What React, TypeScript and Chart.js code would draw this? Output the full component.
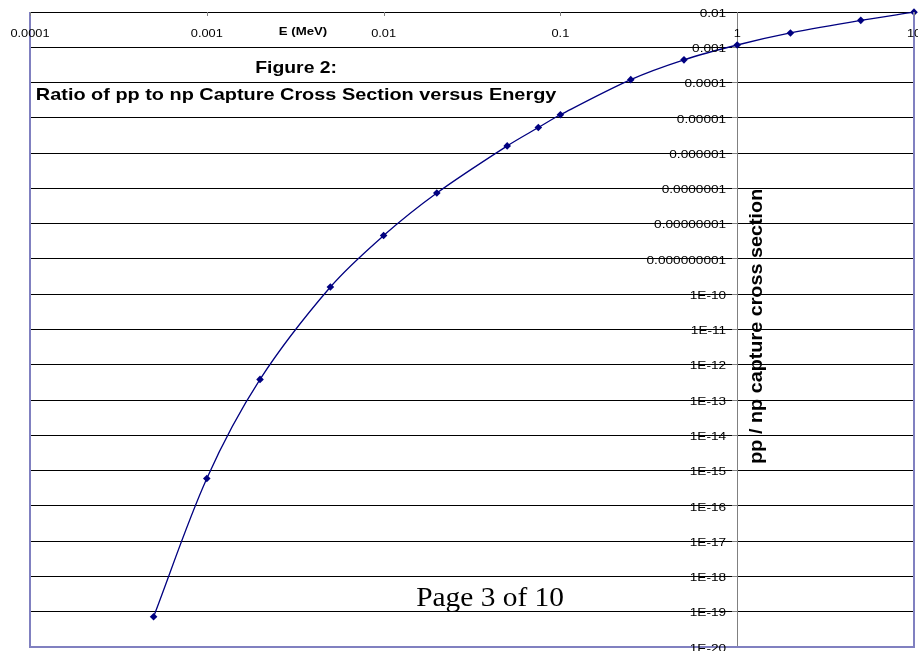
import React, { useEffect, useRef } from "react";
import { Chart, registerables } from "chart.js";

Chart.register(...registerables);

// ---- data ----
const energies = [0.0005, 0.001, 0.002, 0.005, 0.01, 0.02, 0.05, 0.075, 0.1, 0.25, 0.5, 1, 2, 5, 10];
const ratios = [7.2e-20, 6.0e-16, 3.85e-13, 1.6e-10, 4.6e-9, 7.4e-8, 1.6e-6, 5.3e-6, 1.22e-5, 1.21e-4, 4.4e-4, 1.16e-3, 2.55e-3, 5.8e-3, 9.9e-3];

const xTickValues = [0.0001, 0.001, 0.01, 0.1, 1, 10];
const xTickLabels = ["0.0001", "0.001", "0.01", "0.1", "1", "10"];

const yTickValues = [
  1e-2, 1e-3, 1e-4, 1e-5, 1e-6, 1e-7, 1e-8, 1e-9, 1e-10, 1e-11,
  1e-12, 1e-13, 1e-14, 1e-15, 1e-16, 1e-17, 1e-18, 1e-19, 1e-20,
];
const yTickLabels = [
  "0.01", "0.001", "0.0001", "0.00001", "0.000001", "0.0000001", "0.00000001",
  "0.000000001", "1E-10", "1E-11", "1E-12", "1E-13", "1E-14", "1E-15", "1E-16",
  "1E-17", "1E-18", "1E-19", "1E-20",
];

const titleLine1 = "Figure 2:";
const titleLine2 = "Ratio of pp to np Capture Cross Section versus Energy";
const xAxisTitle = "E (MeV)";
const yAxisTitle = "pp / np capture cross section";
const footerText = "Page 3 of 10";

const SANS = '"Liberation Sans", Arial, sans-serif';
const SERIF = '"Liberation Serif", "Times New Roman", serif';

function drawText(
  ctx: CanvasRenderingContext2D,
  text: string,
  x: number,
  y: number,
  font: string,
  align: CanvasTextAlign,
  sx: number,
  rotate = 0,
  baseline: CanvasTextBaseline = "alphabetic"
) {
  ctx.save();
  ctx.font = font;
  ctx.fillStyle = "#000";
  ctx.textAlign = align;
  ctx.textBaseline = baseline;
  ctx.translate(x, y);
  if (rotate) ctx.rotate(rotate);
  ctx.scale(sx, 1);
  ctx.fillText(text, 0, 0);
  ctx.restore();
}

const decorPlugin = {
  id: "decor",
  afterDraw(chart: any) {
    const ctx: CanvasRenderingContext2D = chart.ctx;
    const area = chart.chartArea;
    const xs = chart.scales.x;
    const ys = chart.scales.y;

    // plot-area frame (left, right, bottom) in lavender
    ctx.save();
    ctx.strokeStyle = "#8080C0";
    ctx.lineWidth = 2;
    ctx.beginPath();
    ctx.moveTo(area.left, area.top);
    ctx.lineTo(area.left, area.bottom);
    ctx.lineTo(area.right, area.bottom);
    ctx.lineTo(area.right, area.top);
    ctx.stroke();
    ctx.restore();

    // x tick marks (pointing into the plot from the top axis) and labels
    ctx.save();
    ctx.strokeStyle = "#808080";
    ctx.lineWidth = 1;
    xTickValues.forEach((v, i) => {
      const px = Math.round(xs.getPixelForValue(v)) + 0.5;
      ctx.beginPath();
      ctx.moveTo(px, area.top);
      ctx.lineTo(px, area.top + 4);
      ctx.stroke();
      drawText(ctx, xTickLabels[i], xs.getPixelForValue(v), area.top + 24.5, `10.5px ${SANS}`, "center", 1.22);
    });
    ctx.restore();

    // y tick labels, next to the axis that crosses at x = 1
    const axisX = xs.getPixelForValue(1);
    yTickValues.forEach((v, i) => {
      const py = ys.getPixelForValue(v);
      drawText(ctx, yTickLabels[i], axisX - 11, py + 4.7, `10.5px ${SANS}`, "right", 1.3);
    });

    // titles
    const cx = xs.getPixelForValue(0.0032);
    drawText(ctx, titleLine1, cx, area.top + 60.5, `bold 17px ${SANS}`, "center", 1.14);
    drawText(ctx, titleLine2, cx, area.top + 88, `bold 17px ${SANS}`, "center", 1.17);

    // x axis title (between the top tick labels)
    drawText(ctx, xAxisTitle, xs.getPixelForValue(0.0035), area.top + 23, `bold 11.5px ${SANS}`, "center", 1.15);

    // y axis title, rotated, right of the axis line
    drawText(ctx, yAxisTitle, axisX + 20, ys.getPixelForValue(1e-10) + 32, `bold 18px ${SANS}`, "center", 1.1, -Math.PI / 2, "middle");

    // page footer overlay
    drawText(ctx, footerText, xs.getPixelForValue(0.04), ys.getPixelForValue(1e-18) + 30, `28px ${SERIF}`, "center", 1.05);
  },
};

export default function App() {
  const canvasRef = useRef<HTMLCanvasElement | null>(null);

  useEffect(() => {
    const canvas = canvasRef.current;
    if (!canvas) return;
    let chart: Chart | null = null;
    let cancelled = false;

    const build = () => {
      if (cancelled) return;
      chart = new Chart(canvas, {
        type: "line",
        data: {
          datasets: [
            {
              label: "pp / np",
              data: energies.map((e, i) => ({ x: e, y: ratios[i] })),
              borderColor: "#000080",
              backgroundColor: "#000080",
              borderWidth: 1.3,
              pointStyle: "rectRot",
              pointRadius: 3.8,
              pointBackgroundColor: "#000080",
              pointBorderColor: "#000080",
              pointBorderWidth: 0,
              tension: 0.33,
              clip: false as any,
              fill: false,
            },
          ],
        },
        options: {
          responsive: false,
          animation: false,
          events: [],
          layout: { padding: { left: 30, top: 12, right: 3, bottom: 3 } },
          plugins: {
            legend: { display: false },
            tooltip: { enabled: false },
            title: { display: false },
          },
          scales: {
            x: {
              type: "logarithmic",
              position: "top",
              min: 0.0001,
              max: 10,
              grid: { display: false },
              border: { display: true, color: "#000", width: 1 },
              ticks: { display: false },
              afterBuildTicks: (s: any) => {
                s.ticks = xTickValues.map((v) => ({ value: v }));
              },
              afterFit: (s: any) => {
                s.height = 0;
              },
            },
            y: {
              type: "logarithmic",
              position: { x: 1 } as any,
              min: 1e-20,
              max: 1e-2,
              grid: {
                display: true,
                color: "#000",
                lineWidth: 1,
                drawTicks: true,
                tickLength: 5,
                tickColor: "#808080",
              },
              border: { display: true, color: "#808080", width: 1 },
              ticks: { display: false },
              afterBuildTicks: (s: any) => {
                s.ticks = yTickValues.map((v) => ({ value: v }));
              },
              afterFit: (s: any) => {
                s.width = 0;
              },
            },
          },
        } as any,
        plugins: [decorPlugin],
      });
    };

    const fonts = (document as any).fonts;
    if (fonts && fonts.load) {
      Promise.all([
        fonts.load(`10px "Liberation Sans"`),
        fonts.load(`bold 17px "Liberation Sans"`),
        fonts.load(`28px "Liberation Serif"`),
      ])
        .catch(() => null)
        .then(() => build());
    } else {
      build();
    }

    return () => {
      cancelled = true;
      if (chart) chart.destroy();
    };
  }, []);

  return (
    <div style={{ position: "fixed", left: 0, top: 0, width: 918, height: 651, background: "#fff" }}>
      <canvas ref={canvasRef} width={918} height={651} style={{ display: "block" }} />
      <span style={{ position: "absolute", left: -9999, fontFamily: '"Liberation Sans"' }}>.</span>
      <span style={{ position: "absolute", left: -9999, fontFamily: '"Liberation Sans"', fontWeight: "bold" }}>.</span>
    </div>
  );
}
